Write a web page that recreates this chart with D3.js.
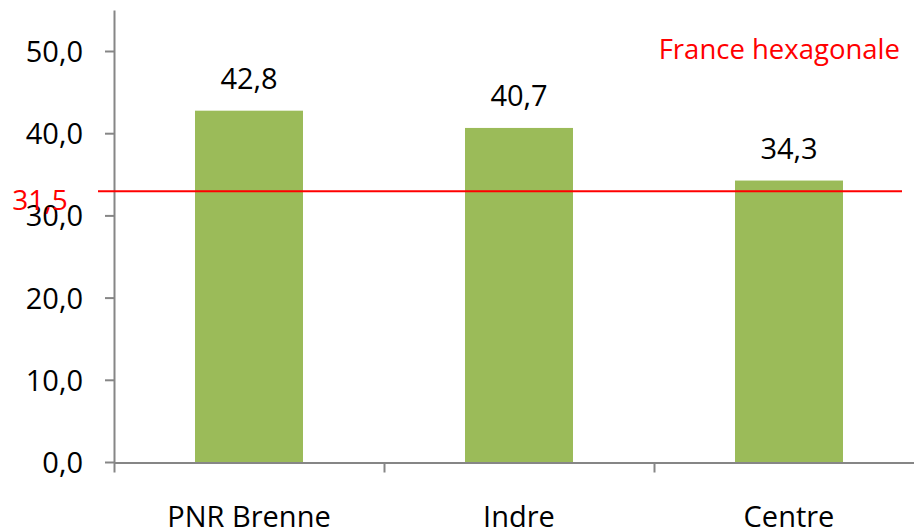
<!DOCTYPE html>
<html>
<head>
<meta charset="utf-8">
<script src="https://cdn.jsdelivr.net/npm/d3@7"></script>
<style>
  body { margin: 0; background: #fff; }
  svg { display: block; font-family: "Open Sans", sans-serif; }
</style>
</head>
<body>
<svg id="chart" width="914" height="531"></svg>
<script>
// data
var categories = ["PNR Brenne", "Indre", "Centre"];
var values = [42.8, 40.7, 34.3];
var yTicks = [0, 10, 20, 30, 40, 50];
// reference line (France hexagonale) - drawn where it sits in the picture
var refLevel = 33.0;
var refLabel = "31,5";
var refName = "France hexagonale";

var svg = d3.select("#chart");
var fmt = function(v) { return v.toFixed(1).replace(".", ","); };

var x = d3.scaleBand()
  .domain(categories)
  .range([114, 924])
  .paddingInner(0.6)
  .paddingOuter(0.3);

var y = d3.scaleLinear()
  .domain([0, 55])
  .range([462.5, 10.4]);

var axisColor = "#868686";
var step = x.step();

// y axis line + ticks
svg.append("line")
  .attr("x1", 114.5).attr("x2", 114.5)
  .attr("y1", y(55)).attr("y2", y(0))
  .attr("stroke", axisColor).attr("stroke-width", 2);

svg.selectAll(".ytick").data(yTicks).enter().append("line")
  .attr("x1", 105).attr("x2", 114)
  .attr("y1", function(d) { return y(d); })
  .attr("y2", function(d) { return y(d); })
  .attr("stroke", axisColor).attr("stroke-width", 2);

svg.selectAll(".ylab").data(yTicks).enter().append("text")
  .attr("x", 83)
  .attr("y", function(d) { return y(d); })
  .attr("dy", "0.36em")
  .attr("text-anchor", "end")
  .attr("font-size", 29)
  .attr("fill", "#000")
  .text(fmt);

// bars
svg.selectAll(".bar").data(values).enter().append("rect")
  .attr("x", function(d, i) { return x(categories[i]); })
  .attr("width", x.bandwidth())
  .attr("y", function(d) { return y(d); })
  .attr("height", function(d) { return y(0) - y(d); })
  .attr("fill", "#9BBB59");

// value labels
svg.selectAll(".val").data(values).enter().append("text")
  .attr("x", function(d, i) { return x(categories[i]) + x.bandwidth() / 2; })
  .attr("y", function(d) { return y(d) - 21.5; })
  .attr("text-anchor", "middle")
  .attr("font-size", 29)
  .attr("fill", "#000")
  .text(fmt);

// x axis
svg.append("line")
  .attr("x1", 114).attr("x2", 924)
  .attr("y1", y(0) + 0.5).attr("y2", y(0) + 0.5)
  .attr("stroke", axisColor).attr("stroke-width", 2);

var bounds = categories.map(function(c) { return x(c) - step * x.paddingInner() / 2; });
svg.selectAll(".xtick").data(bounds).enter().append("line")
  .attr("x1", function(d) { return d + 0.5; })
  .attr("x2", function(d) { return d + 0.5; })
  .attr("y1", y(0)).attr("y2", y(0) + 10)
  .attr("stroke", axisColor).attr("stroke-width", 2);

svg.selectAll(".xlab").data(categories).enter().append("text")
  .attr("x", function(d) { return x(d) + x.bandwidth() / 2; })
  .attr("y", 526.5)
  .attr("text-anchor", "middle")
  .attr("font-size", 29)
  .attr("fill", "#000")
  .text(function(d) { return d; });

// reference line
svg.append("line")
  .attr("x1", 98).attr("x2", 902)
  .attr("y1", y(refLevel)).attr("y2", y(refLevel))
  .attr("stroke", "#FF0000").attr("stroke-width", 2);

svg.append("text")
  .attr("x", 40)
  .attr("y", y(refLevel) + 19)
  .attr("text-anchor", "middle")
  .attr("font-size", 28)
  .attr("fill", "#FF0000")
  .text(refLabel);

svg.append("text")
  .attr("x", 900)
  .attr("y", 59)
  .attr("text-anchor", "end")
  .attr("font-size", 27.5)
  .attr("fill", "#FF0000")
  .text(refName);
</script>
</body>
</html>
